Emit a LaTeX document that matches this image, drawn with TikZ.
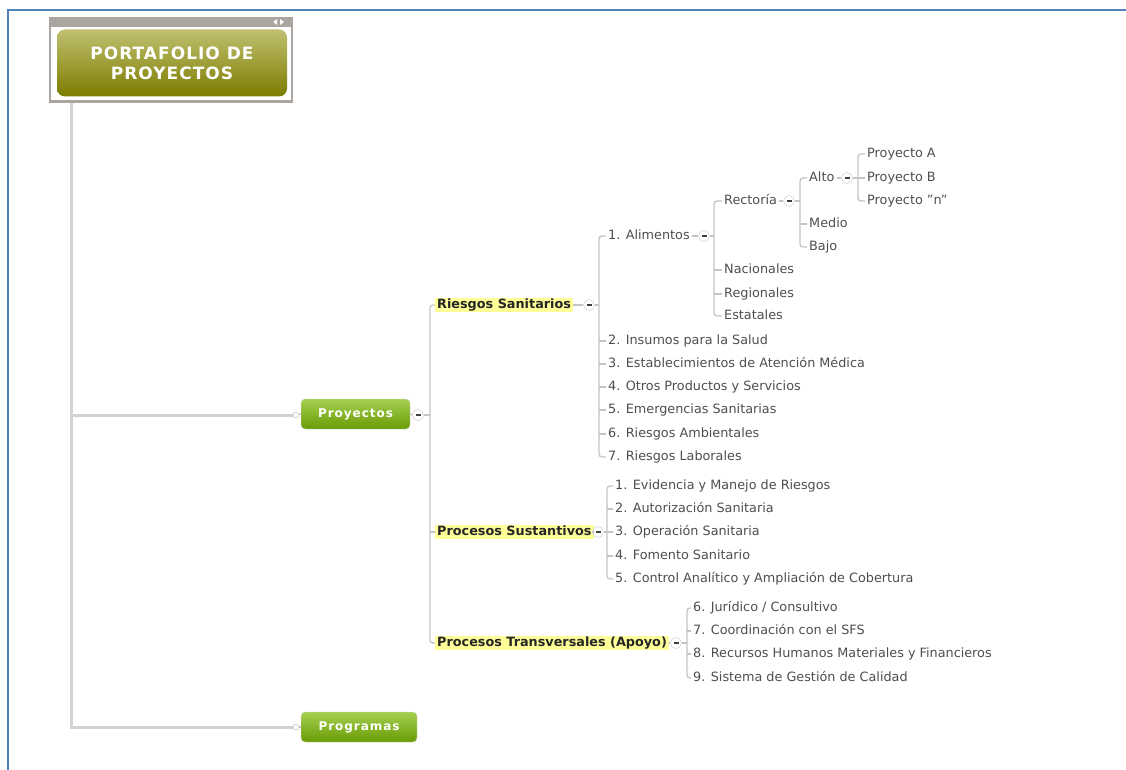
\documentclass[tikz,border=0pt]{standalone}
\usepackage{fontspec}
\setmainfont{DejaVu Sans}
\usetikzlibrary{positioning}

\definecolor{framebl}{RGB}{79,129,189}
\definecolor{framegray}{RGB}{170,165,158}
\definecolor{olivetop}{RGB}{192,192,112}
\definecolor{olivemid}{RGB}{140,140,20}
\definecolor{olivebot}{RGB}{125,125,0}
\definecolor{greentop}{RGB}{165,208,80}
\definecolor{greenbot}{RGB}{105,155,5}
\definecolor{hilite}{RGB}{255,255,153}
\definecolor{linegray}{RGB}{196,196,196}
\definecolor{txtgray}{RGB}{78,78,78}

\tikzset{
    item/.style={anchor=west, inner xsep=2pt, inner ysep=1pt, text=txtgray,
        font=\fontsize{12.8}{15}\selectfont, text height=9.5pt, text depth=3pt},
    head/.style={item, fill=hilite, text=black!85, font=\fontsize{12.8}{15}\selectfont\bfseries},
    fold/.style={circle, draw=linegray, fill=white, minimum size=11pt, inner sep=0pt,
        path picture={\draw[line width=1.2pt, black!75]
            ([xshift=-2.5pt]path picture bounding box.center) -- ([xshift=2.5pt]path picture bounding box.center);}},
    knob/.style={circle, draw=gray!60, fill=white, minimum size=6pt, inner sep=0pt},
    branch/.style={draw=linegray, line width=1.3pt},
    trunk/.style={draw=gray!35, line width=3pt},
    topic/.style={rounded corners=4pt, top color=greentop, bottom color=greenbot, draw=gray!35,
        text=white, inner sep=0pt, minimum height=30pt,
        font=\fontsize{12}{14}\selectfont\bfseries\addfontfeature{LetterSpace=8}},
}

\begin{document}
\begin{tikzpicture}[x=1pt, y=-1pt]
\useasboundingbox (0,0) rectangle (1126,770);

% === page frame ===
\draw[framebl, line width=2pt] (1126,10) -- (8,10) -- (8,770);

% === root ===
\node (root) [draw=framegray, line width=2.5pt, fill=white, minimum width=242pt, minimum height=83pt] at (171,60) {};
\fill[framegray] (root.north west) rectangle ([yshift=-10pt]root.north east);
\fill[white] (277,19) -- (277,25) -- (273,22) -- cycle;
\fill[white] (280,19) -- (280,25) -- (284,22) -- cycle;
\node (title) [rounded corners=8pt, top color=olivetop, middle color=olivemid, bottom color=olivebot,
    minimum width=230pt, minimum height=67pt, align=center, text=white,
    font=\fontsize{17}{20}\selectfont\bfseries\addfontfeature{LetterSpace=6}] at (172,63) {PORTAFOLIO DE\\PROYECTOS};

% === main topics ===
\node (k-proy) [knob] at (296,415) {};
\node (k-prog) [knob] at (296,727) {};
\node (proy) [topic, minimum width=109pt] at (355.5,414) {Proyectos};
\node (prog) [topic, minimum width=116pt] at (359,727) {Programas};

\coordinate (trunk) at (71,103);
\draw[trunk] (trunk) |- (k-prog.west);
\draw[trunk] (trunk |- k-proy) -- (k-proy.west);
\draw[branch] (k-proy) -- (proy.west);
\draw[branch] (k-prog) -- (prog.west);

% === level 2 ===
\node (c-proy) [fold] at (418,415) {};
\coordinate (s-proy) at (430,415);
\node (riesgos) [head] at (435,305) {Riesgos Sanitarios};
\node (sust) [head] at (435,532) {Procesos Sustantivos};
\node (transv) [head] at (435,643) {Procesos Transversales (Apoyo)};

\draw[branch] (proy.east) -- (c-proy.west);
\draw[branch] (c-proy.east) -- (s-proy);
\draw[branch, rounded corners=3pt] (riesgos.west) -| (s-proy) |- (transv.west);
\draw[branch] (sust.west) -- (sust.west -| s-proy);

% === Riesgos Sanitarios ===
\node (c-riesgos) [fold] at (589,305) {};
\coordinate (s-riesgos) at (599,305);
\node (alim) [item] at (606,236) {1. Alimentos};
\node (insu) [item] at (606,341) {2. Insumos para la Salud};
\node (estab) [item] at (606,364) {3. Establecimientos de Atención Médica};
\node (otros) [item] at (606,387) {4. Otros Productos y Servicios};
\node (emerg) [item] at (606,410) {5. Emergencias Sanitarias};
\node (amb) [item] at (606,434) {6. Riesgos Ambientales};
\node (lab) [item] at (606,457) {7. Riesgos Laborales};

\draw[branch] (riesgos.east) -- (c-riesgos.west);
\draw[branch] (c-riesgos.east) -- (s-riesgos);
\draw[branch, rounded corners=3pt] (alim.west) -| (s-riesgos) |- (lab.west);
\foreach \n in {insu, estab, otros, emerg, amb}
    \draw[branch] (\n.west) -- (\n.west -| s-riesgos);

% === Alimentos ===
\node (c-alim) [fold] at (704,236) {};
\coordinate (s-alim) at (714,236);
\node (rect) [item] at (722,201) {Rectoría};
\node (nac) [item] at (722,270) {Nacionales};
\node (reg) [item] at (722,294) {Regionales};
\node (esta) [item] at (722,316) {Estatales};

\draw[branch] (alim.east) -- (c-alim.west);
\draw[branch] (c-alim.east) -- (s-alim);
\draw[branch, rounded corners=3pt] (rect.west) -| (s-alim) |- (esta.west);
\foreach \n in {nac, reg}
    \draw[branch] (\n.west) -- (\n.west -| s-alim);

% === Rectoria ===
\node (c-rect) [fold] at (789,201) {};
\coordinate (s-rect) at (800,201);
\node (alto) [item] at (807,178) {Alto};
\node (medio) [item] at (807,224) {Medio};
\node (bajo) [item] at (807,247) {Bajo};

\draw[branch] (rect.east) -- (c-rect.west);
\draw[branch] (c-rect.east) -- (s-rect);
\draw[branch, rounded corners=3pt] (alto.west) -| (s-rect) |- (bajo.west);
\draw[branch] (medio.west) -- (medio.west -| s-rect);

% === Alto ===
\node (c-alto) [fold] at (847,178) {};
\coordinate (s-alto) at (858,178);
\node (pa) [item] at (865,154) {Proyecto A};
\node (pb) [item] at (865,178) {Proyecto B};
\node (pn) [item] at (865,201) {Proyecto "n"};

\draw[branch] (alto.east) -- (c-alto.west);
\draw[branch] (c-alto.east) -- (s-alto);
\draw[branch, rounded corners=3pt] (pa.west) -| (s-alto) |- (pn.west);
\draw[branch] (pb.west) -- (s-alto);

% === Procesos Sustantivos ===
\node (c-sust) [fold] at (598,532) {};
\coordinate (s-sust) at (607,532);
\node (ev) [item] at (613,486) {1. Evidencia y Manejo de Riesgos};
\node (aut) [item] at (613,509) {2. Autorización Sanitaria};
\node (oper) [item] at (613,532) {3. Operación Sanitaria};
\node (fom) [item] at (613,556) {4. Fomento Sanitario};
\node (ctrl) [item] at (613,579) {5. Control Analítico y Ampliación de Cobertura};

\draw[branch] (sust.east) -- (c-sust.west);
\draw[branch] (c-sust.east) -- (s-sust);
\draw[branch, rounded corners=3pt] (ev.west) -| (s-sust) |- (ctrl.west);
\foreach \n in {aut, oper, fom}
    \draw[branch] (\n.west) -- (\n.west -| s-sust);

% === Procesos Transversales ===
\node (c-transv) [fold] at (676,643) {};
\coordinate (s-transv) at (687,643);
\node (jur) [item] at (691,608) {6. Jurídico / Consultivo};
\node (coord) [item] at (691,631) {7. Coordinación con el SFS};
\node (rrhh) [item] at (691,654) {8. Recursos Humanos Materiales y Financieros};
\node (sgc) [item] at (691,678) {9. Sistema de Gestión de Calidad};

\draw[branch] (transv.east) -- (c-transv.west);
\draw[branch] (c-transv.east) -- (s-transv);
\draw[branch, rounded corners=3pt] (jur.west) -| (s-transv) |- (sgc.west);
\foreach \n in {coord, rrhh}
    \draw[branch] (\n.west) -- (\n.west -| s-transv);

\end{tikzpicture}
\end{document}
